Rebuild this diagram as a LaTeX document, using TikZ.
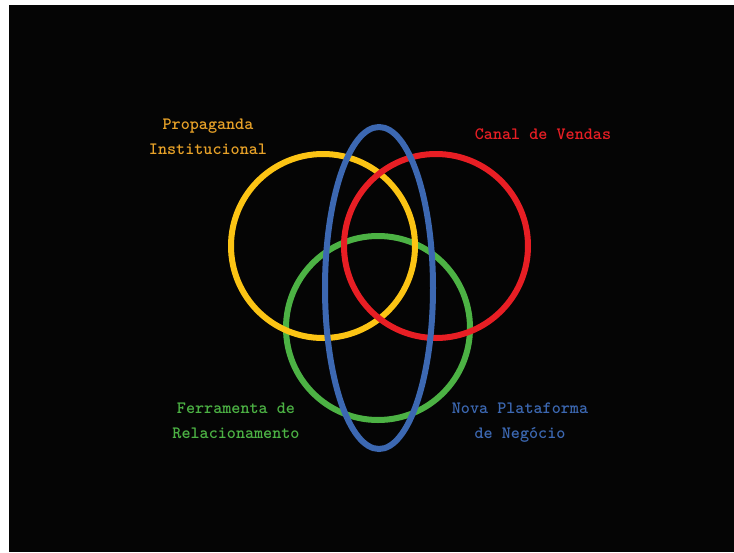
\documentclass[tikz,border=0pt]{standalone}
\usepackage{fontspec}
\definecolor{propyellow}{RGB}{252, 196, 20}
\definecolor{proptext}{RGB}{232, 162, 40}
\definecolor{canalred}{RGB}{232, 30, 36}
\definecolor{ferrgreen}{RGB}{76, 178, 68}
\definecolor{novablue}{RGB}{60, 104, 178}
\begin{document}
\begin{tikzpicture}[x=1pt, y=-1pt,
  ring/.style={line width=6pt},
  lbl/.style={align=center, inner sep=0pt, font=\ttfamily\bfseries\fontsize{17.3}{25}\selectfont}
]
  % background
  \fill[white] (0,0) rectangle (734,552);
  \useasboundingbox (0,0) rectangle (734,552);
  \fill[black!98] (9,5) rectangle (734,552);

  % circles
  \draw[ring, ferrgreen] (378,328) circle[radius=92pt];
  \draw[ring, propyellow] (323,246) circle[radius=92pt];
  \draw[ring, canalred] (436,246) circle[radius=92pt];
  \draw[ring, novablue] (379,288) ellipse[x radius=54pt, y radius=161pt];

  % labels
  \node[lbl, text=proptext] (prop) at (208,137) {Propaganda\\Institucional};
  \node[lbl, text=canalred] (canal) at (543,134) {Canal de Vendas};
  \node[lbl, text=ferrgreen] (ferr) at (236,421) {Ferramenta de\\Relacionamento};
  \node[lbl, text=novablue] (nova) at (520,423) {Nova Plataforma\\de Negócio};
\end{tikzpicture}
\end{document}
